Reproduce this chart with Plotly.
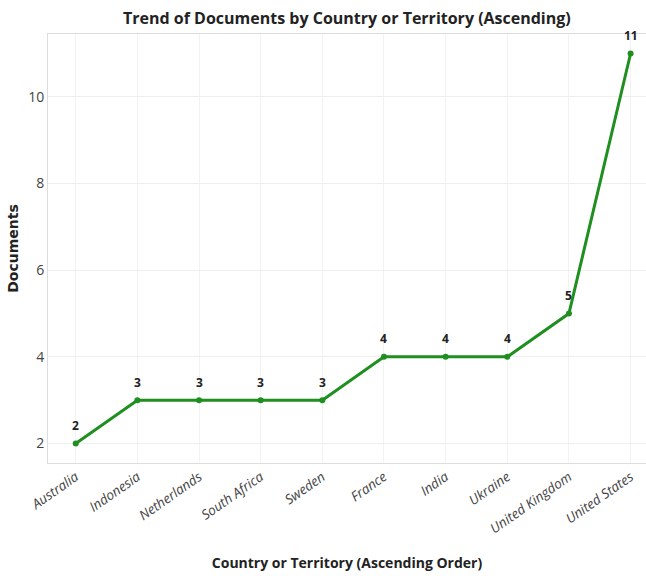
import plotly.graph_objects as go

countries = ["Australia", "Indonesia", "Netherlands", "South Africa", "Sweden",
             "France", "India", "Ukraine", "United Kingdom", "United States"]
documents = [2, 3, 3, 3, 3, 4, 4, 4, 5, 11]
y_ticks = [2, 4, 6, 8, 10]

xs = list(range(len(countries)))
fig = go.Figure()
fig.add_trace(go.Scatter(
    x=xs, y=documents,
    mode="lines+markers",
    line=dict(color="#1f8f1f", width=3),
    marker=dict(color="#1f8f1f", size=6),
    hoverinfo="skip",
))
for xi, v in zip(xs, documents):
    fig.add_annotation(x=xi, y=v, text=f"<b>{v}</b>", showarrow=False,
                       yshift=18, font=dict(family="Open Sans", size=12, color="#222222"))

fig.update_layout(
    width=646, height=576,
    margin=dict(l=48, r=0, t=34, b=113),
    paper_bgcolor="white", plot_bgcolor="white",
    showlegend=False,
    title=dict(text="<b>Trend of Documents by Country or Territory (Ascending)</b>",
               x=0.537, xanchor="center", y=0.968, yanchor="middle",
               font=dict(family="Open Sans", size=16, color="#222222")),
    font=dict(family="Open Sans", color="#333333"),
)
fig.update_xaxes(
    range=[-0.45, 9.25],
    tickmode="array", tickvals=xs,
    ticktext=[f"<i>{c}</i>" for c in countries],
    tickangle=-35, tickfont=dict(size=13.5, color="#444444"),
    showgrid=True, gridcolor="#f2f2f2", zeroline=False,
    showline=True, linecolor="#dddddd", mirror=True,
    title=dict(text="<b>Country or Territory (Ascending Order)</b>",
               font=dict(size=14, color="#222222"), standoff=22),
)
fig.update_yaxes(
    range=[1.55, 11.45],
    tickmode="array", tickvals=y_ticks,
    tickfont=dict(size=14, color="#444444"),
    showgrid=True, gridcolor="#efefef", zeroline=False,
    showline=True, linecolor="#dddddd", mirror=True,
    title=dict(text="<b>Documents</b>",
               font=dict(family="DejaVu Sans", size=14, color="#222222"), standoff=6),
)

fig.write_html("out.html")
